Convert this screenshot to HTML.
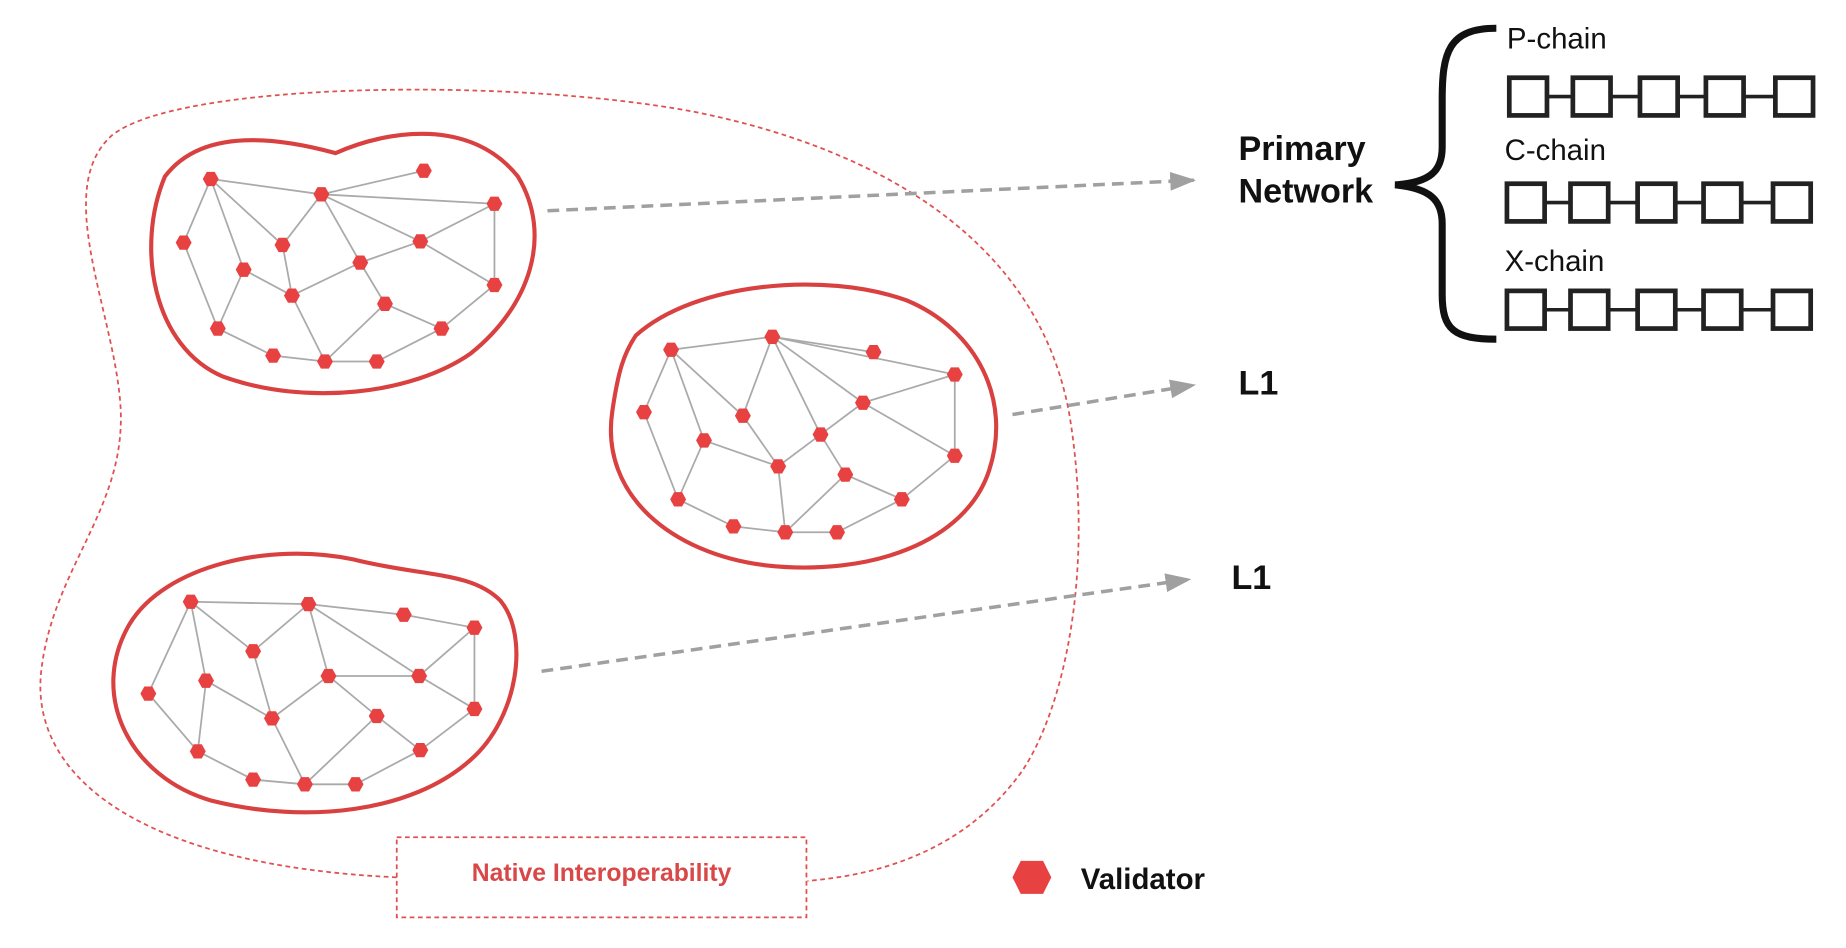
<!DOCTYPE html>
<html><head><meta charset="utf-8"><style>html,body{margin:0;padding:0;background:#fff}svg{display:block}</style></head>
<body>
<svg width="1846" height="948" viewBox="0 0 1568 805" preserveAspectRatio="none" xmlns="http://www.w3.org/2000/svg" font-family="Liberation Sans, sans-serif">
<defs>
<marker id="ah2" markerWidth="22" markerHeight="16" refX="20" refY="8" orient="auto" markerUnits="userSpaceOnUse"><path d="M0,0 L22,8 L0,16 z" fill="#a0a0a0"/></marker>
<symbol id="hx" viewBox="-6 -6 12 12"><polygon points="-5.8,0 -2.9,-5.2 2.9,-5.2 5.8,0 2.9,5.2 -2.9,5.2" fill="#e84142"/></symbol>
</defs>
<path d="M337,745 C120,735 25,660 35,570 C45,480 110,430 102,340 C95,260 45,160 95,115 C150,70 430,65 590,95 C740,125 880,200 908,350 C930,480 905,600 868,655 C825,715 760,742 686,748" fill="none" stroke="#e05050" stroke-width="1.5" stroke-dasharray="4,3"/>
<rect x="337" y="711" width="348" height="68" fill="#fff" stroke="#e05050" stroke-width="1.5" stroke-dasharray="4,3"/>
<text x="511" y="748" text-anchor="middle" font-size="21" font-weight="bold" fill="#d94848">Native Interoperability</text>
<path d="M140,150 C170,110 230,115 285,130 C330,110 400,100 440,150 C470,200 450,260 400,300 C350,335 260,345 190,320 C130,295 115,210 140,150 Z" fill="none" stroke="#d94040" stroke-width="3.5"/>
<path d="M540,285 C590,240 700,230 770,255 C830,280 860,340 840,400 C820,460 740,490 650,480 C570,470 510,420 520,350 C525,315 530,300 540,285 Z" fill="none" stroke="#d94040" stroke-width="3.5"/>
<path d="M110,530 C140,480 230,460 300,475 C360,490 400,485 425,510 C450,540 440,610 400,645 C350,690 260,700 180,680 C110,660 75,590 110,530 Z" fill="none" stroke="#d94040" stroke-width="3.5"/>
<g stroke="#aaa" stroke-width="1.5" fill="none">
<path d="M179,152L273,165L360,145M273,165L420,173M179,152L156,206M179,152L240,208M179,152L207,229M156,206L185,279M207,229L185,279M273,165L240,208M273,165L306,223M273,165L357,205M420,173L357,205M420,173L420,242M357,205L420,242M240,208L248,251M306,223L248,251M306,223L357,205M306,223L327,258M248,251L276,307M327,258L375,279M327,258L276,307M375,279L420,242M185,279L232,302L276,307L320,307L375,279M207,229L248,251"/>
<path d="M570,297L656,286L742,299M656,286L811,318M570,297L547,350M570,297L631,353M570,297L598,374M547,350L576,424M656,286L631,353M656,286L697,369M656,286L733,342M811,318L733,342M811,318L811,387M733,342L697,369M733,342L811,387M598,374L661,396M631,353L661,396M697,369L661,396M697,369L718,403M718,403L766,424M766,424L811,387M718,403L667,452M661,396L667,452M598,374L576,424M576,424L623,447L667,452L711,452L766,424"/>
<path d="M162,511L262,513L343,522L403,533M262,513L356,574M162,511L215,553M162,511L126,589M162,511L175,578M262,513L215,553M262,513L279,574M403,533L356,574M403,533L403,602M356,574L279,574M356,574L403,602M215,553L231,610M175,578L231,610M279,574L231,610M279,574L320,608M320,608L357,637M357,637L403,602M126,589L168,638M175,578L168,638M231,610L259,666M320,608L259,666M168,638L215,662L259,666L302,666L357,637"/>
</g>
<g>
<use href="#hx" x="172" y="145" width="14" height="14"/><use href="#hx" x="353" y="138" width="14" height="14"/><use href="#hx" x="266" y="158" width="14" height="14"/><use href="#hx" x="413" y="166" width="14" height="14"/><use href="#hx" x="149" y="199" width="14" height="14"/><use href="#hx" x="233" y="201" width="14" height="14"/><use href="#hx" x="299" y="216" width="14" height="14"/><use href="#hx" x="350" y="198" width="14" height="14"/><use href="#hx" x="200" y="222" width="14" height="14"/><use href="#hx" x="241" y="244" width="14" height="14"/><use href="#hx" x="413" y="235" width="14" height="14"/><use href="#hx" x="320" y="251" width="14" height="14"/><use href="#hx" x="178" y="272" width="14" height="14"/><use href="#hx" x="368" y="272" width="14" height="14"/><use href="#hx" x="225" y="295" width="14" height="14"/><use href="#hx" x="269" y="300" width="14" height="14"/><use href="#hx" x="313" y="300" width="14" height="14"/>
<use href="#hx" x="563" y="290" width="14" height="14"/><use href="#hx" x="649" y="279" width="14" height="14"/><use href="#hx" x="735" y="292" width="14" height="14"/><use href="#hx" x="804" y="311" width="14" height="14"/><use href="#hx" x="540" y="343" width="14" height="14"/><use href="#hx" x="624" y="346" width="14" height="14"/><use href="#hx" x="726" y="335" width="14" height="14"/><use href="#hx" x="591" y="367" width="14" height="14"/><use href="#hx" x="690" y="362" width="14" height="14"/><use href="#hx" x="654" y="389" width="14" height="14"/><use href="#hx" x="804" y="380" width="14" height="14"/><use href="#hx" x="711" y="396" width="14" height="14"/><use href="#hx" x="569" y="417" width="14" height="14"/><use href="#hx" x="759" y="417" width="14" height="14"/><use href="#hx" x="616" y="440" width="14" height="14"/><use href="#hx" x="660" y="445" width="14" height="14"/><use href="#hx" x="704" y="445" width="14" height="14"/>
<use href="#hx" x="155" y="504" width="14" height="14"/><use href="#hx" x="255" y="506" width="14" height="14"/><use href="#hx" x="336" y="515" width="14" height="14"/><use href="#hx" x="396" y="526" width="14" height="14"/><use href="#hx" x="208" y="546" width="14" height="14"/><use href="#hx" x="119" y="582" width="14" height="14"/><use href="#hx" x="168" y="571" width="14" height="14"/><use href="#hx" x="272" y="567" width="14" height="14"/><use href="#hx" x="349" y="567" width="14" height="14"/><use href="#hx" x="224" y="603" width="14" height="14"/><use href="#hx" x="396" y="595" width="14" height="14"/><use href="#hx" x="313" y="601" width="14" height="14"/><use href="#hx" x="161" y="631" width="14" height="14"/><use href="#hx" x="350" y="630" width="14" height="14"/><use href="#hx" x="208" y="655" width="14" height="14"/><use href="#hx" x="252" y="659" width="14" height="14"/><use href="#hx" x="295" y="659" width="14" height="14"/>
</g>
<g stroke="#a0a0a0" stroke-width="3" stroke-dasharray="10,6" fill="none">
<path d="M465,179L1014,153" marker-end="url(#ah2)"/>
<path d="M860,352L1014,327" marker-end="url(#ah2)"/>
<path d="M460,570L1010,492" marker-end="url(#ah2)"/>
</g>
<g font-weight="bold" fill="#111" font-size="29">
<text x="1052" y="136">Primary</text><text x="1052" y="172">Network</text>
<text x="1052" y="335">L1</text><text x="1046" y="500">L1</text>
<text x="918" y="755" font-size="25">Validator</text>
</g>
<polygon points="860,745 867,731 886,731 893,745 886,759 867,759" fill="#e84142"/>
<path d="M1271,24 C1230,24 1225,45 1225,85 L1225,125 C1225,145 1215,155 1185,157 C1215,160 1225,170 1225,190 L1225,250 C1225,280 1235,288 1271,288" fill="none" stroke="#111" stroke-width="6"/>
<g font-size="25" fill="#111">
<text x="1280" y="41">P-chain</text><text x="1278" y="136">C-chain</text><text x="1278" y="230">X-chain</text>
</g>
<g stroke="#222" stroke-width="4" fill="#fff">
<path d="M1310,82H1520M1310,172H1520M1310,263H1520" stroke-width="3"/>
<rect x="1282" y="66" width="32" height="32"/><rect x="1336" y="66" width="32" height="32"/><rect x="1393" y="66" width="32" height="32"/><rect x="1449" y="66" width="32" height="32"/><rect x="1508" y="66" width="32" height="32"/>
<rect x="1280" y="156" width="32" height="32"/><rect x="1334" y="156" width="32" height="32"/><rect x="1391" y="156" width="32" height="32"/><rect x="1447" y="156" width="32" height="32"/><rect x="1506" y="156" width="32" height="32"/>
<rect x="1280" y="247" width="32" height="32"/><rect x="1334" y="247" width="32" height="32"/><rect x="1391" y="247" width="32" height="32"/><rect x="1447" y="247" width="32" height="32"/><rect x="1506" y="247" width="32" height="32"/>
</g>
</svg>
</body></html>
